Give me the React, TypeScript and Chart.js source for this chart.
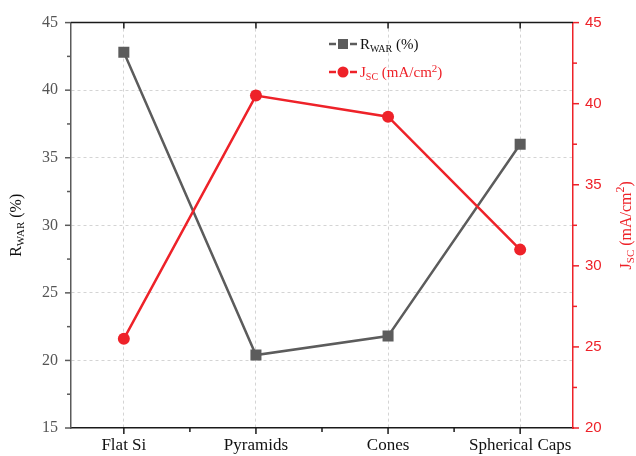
import React, { useEffect, useRef } from 'react';
import { Chart, registerables } from 'chart.js';

Chart.register(...registerables);

const categories = ['Flat Si', 'Pyramids', 'Cones', 'Spherical Caps'];
const rwarValues = [42.8, 20.4, 21.8, 36.0];
const jscValues = [25.5, 40.5, 39.2, 31.0];
const leftTicks = [15, 20, 25, 30, 35, 40, 45];
const rightTicks = [20, 25, 30, 35, 40, 45];

const GRAY = '#5c5c5c';
const RED = '#ee2229';
const SERIF = '"Liberation Serif", "Times New Roman", serif';
const SANS = '"Liberation Sans", Arial, sans-serif';

type Part = { t: string; size: number; dy: number };

function richWidth(ctx: CanvasRenderingContext2D, parts: Part[]) {
  let total = 0;
  parts.forEach((p) => {
    ctx.font = `${p.size}px ${SERIF}`;
    total += ctx.measureText(p.t).width;
  });
  return total;
}

function drawRich(ctx: CanvasRenderingContext2D, parts: Part[], x: number, y: number, color: string) {
  ctx.fillStyle = color;
  ctx.textAlign = 'left';
  ctx.textBaseline = 'alphabetic';
  let cx = x;
  parts.forEach((p) => {
    ctx.font = `${p.size}px ${SERIF}`;
    ctx.fillText(p.t, cx, y + p.dy);
    cx += ctx.measureText(p.t).width;
  });
}

const rwarLabel = (s: number): Part[] => [
  { t: 'R', size: s, dy: 0 },
  { t: 'WAR', size: Math.round(s * 0.67), dy: 3 },
  { t: ' (%)', size: s, dy: 0 },
];
const jscLabel = (s: number, sup: number): Part[] => [
  { t: 'J', size: s, dy: 0 },
  { t: 'SC', size: Math.round(s * 0.67), dy: 3 },
  { t: ' (mA/cm', size: s, dy: 0 },
  { t: '2', size: Math.round(s * 0.72), dy: sup },
  { t: ')', size: s, dy: 0 },
];

const framePlugin = {
  id: 'frameDeco',
  afterDraw(chart: any) {
    const { ctx, chartArea } = chart;
    const { left, right, top, bottom } = chartArea;
    const x = chart.scales.x;
    const y = chart.scales.y;
    const y1 = chart.scales.y1;
    const seg = (x1: number, y1_: number, x2: number, y2: number) => {
      ctx.beginPath();
      ctx.moveTo(x1, y1_);
      ctx.lineTo(x2, y2);
      ctx.stroke();
    };
    ctx.save();
    // top frame
    ctx.strokeStyle = '#1a1a1a';
    ctx.lineWidth = 1.5;
    seg(left, top, right, top);
    // x ticks
    x.ticks.forEach((t: any) => {
      const px = x.getPixelForValue(t.value);
      if (Number.isInteger(t.value)) {
        seg(px, bottom, px, bottom + 6);
        seg(px, top, px, top + 6);
      } else {
        seg(px, bottom, px, bottom + 4);
      }
    });
    // left ticks
    ctx.strokeStyle = '#5a5a5a';
    leftTicks.forEach((v, i) => {
      const py = y.getPixelForValue(v);
      seg(left, py, left - 6, py);
      if (i < leftTicks.length - 1) {
        const pm = y.getPixelForValue(v + 2.5);
        seg(left, pm, left - 4, pm);
      }
    });
    // right ticks
    ctx.strokeStyle = RED;
    rightTicks.forEach((v, i) => {
      const py = y1.getPixelForValue(v);
      seg(right, py, right + 6, py);
      if (i < rightTicks.length - 1) {
        const pm = y1.getPixelForValue(v + 2.5);
        seg(right, pm, right + 4, pm);
      }
    });

    // axis titles
    const cy = (top + bottom) / 2;
    const lp = rwarLabel(16);
    ctx.save();
    ctx.translate(21, cy);
    ctx.rotate(-Math.PI / 2);
    drawRich(ctx, lp, -richWidth(ctx, lp) / 2, 0, '#111');
    ctx.restore();

    const rp = jscLabel(16, -7);
    ctx.save();
    ctx.translate(631, cy);
    ctx.rotate(-Math.PI / 2);
    drawRich(ctx, rp, -richWidth(ctx, rp) / 2, 0, RED);
    ctx.restore();

    // legend
    const lx = 329;
    const rows = [
      { yc: 44, color: GRAY, shape: 'rect', parts: rwarLabel(15) },
      { yc: 72, color: RED, shape: 'circle', parts: jscLabel(15, -5) },
    ];
    rows.forEach((r) => {
      ctx.strokeStyle = r.color;
      ctx.fillStyle = r.color;
      ctx.lineWidth = 2.5;
      seg(lx, r.yc, lx + 7, r.yc);
      seg(lx + 21, r.yc, lx + 28, r.yc);
      if (r.shape === 'rect') {
        ctx.fillRect(lx + 9, r.yc - 5, 10, 10);
      } else {
        ctx.beginPath();
        ctx.arc(lx + 14, r.yc, 5.5, 0, Math.PI * 2);
        ctx.fill();
      }
      drawRich(ctx, r.parts, lx + 31, r.yc + 5, r.color === GRAY ? '#111' : RED);
    });
    ctx.restore();
  },
};

export default function App() {
  const ref = useRef<HTMLCanvasElement | null>(null);

  useEffect(() => {
    if (!ref.current) return;
    const chart = new Chart(ref.current, {
      type: 'line',
      data: {
        datasets: [
          {
            label: 'RWAR (%)',
            data: categories.map((_, i) => ({ x: i + 1, y: rwarValues[i] })),
            yAxisID: 'y',
            borderColor: GRAY,
            backgroundColor: GRAY,
            borderWidth: 2.5,
            pointStyle: 'rect',
            pointRadius: 7.8,
            pointBorderWidth: 0,
            order: 1,
          },
          {
            label: 'JSC (mA/cm2)',
            data: categories.map((_, i) => ({ x: i + 1, y: jscValues[i] })),
            yAxisID: 'y1',
            borderColor: RED,
            backgroundColor: RED,
            borderWidth: 2.5,
            pointStyle: 'circle',
            pointRadius: 6,
            pointBorderWidth: 0,
            order: 0,
          },
        ],
      },
      options: {
        responsive: false,
        animation: false,
        devicePixelRatio: 1,
        layout: { padding: { top: 16, left: 0, right: 0, bottom: 0 } },
        plugins: { legend: { display: false }, tooltip: { enabled: false } },
        scales: {
          x: {
            type: 'linear',
            position: 'bottom',
            min: 0.6,
            max: 4.4,
            afterBuildTicks: (s: any) => {
              s.ticks = [1, 1.5, 2, 2.5, 3, 3.5, 4].map((v) => ({ value: v }));
            },
            afterFit: (s: any) => {
              s.height = 28;
            },
            ticks: {
              autoSkip: false,
              maxRotation: 0,
              padding: 7,
              color: '#111',
              font: { family: SERIF, size: 17 },
              callback: (v: any) => (Number.isInteger(v) ? categories[v - 1] : ''),
            },
            grid: {
              drawTicks: false,
              color: (c: any) => (c.tick && Number.isInteger(c.tick.value) ? '#d4d4d4' : 'rgba(0,0,0,0)'),
              lineWidth: 1,
            },
            border: { color: '#1a1a1a', width: 1.5, dash: [3, 3] },
          },
          y: {
            type: 'linear',
            position: 'left',
            min: 15,
            max: 45,
            afterBuildTicks: (s: any) => {
              s.ticks = leftTicks.map((v) => ({ value: v }));
            },
            afterFit: (s: any) => {
              s.width = 71;
            },
            ticks: {
              padding: 13,
              color: '#555',
              font: { family: SERIF, size: 16 },
            },
            grid: {
              drawTicks: false,
              color: (c: any) =>
                c.tick && (c.tick.value === 15 || c.tick.value === 45) ? 'rgba(0,0,0,0)' : '#d4d4d4',
              lineWidth: 1,
            },
            border: { color: '#5a5a5a', width: 1.5, dash: [3, 3] },
          },
          y1: {
            type: 'linear',
            position: 'right',
            min: 20,
            max: 45,
            afterBuildTicks: (s: any) => {
              s.ticks = rightTicks.map((v) => ({ value: v }));
            },
            afterFit: (s: any) => {
              s.width = 63;
            },
            ticks: {
              padding: 12,
              color: RED,
              font: { family: SANS, size: 15 },
            },
            grid: { drawTicks: false, drawOnChartArea: false },
            border: { color: RED, width: 1.5 },
          },
        },
      },
      plugins: [framePlugin],
    } as any);
    return () => chart.destroy();
  }, []);

  return (
    <div style={{ position: 'fixed', left: 0, top: 0, width: 636, height: 456, background: '#fff' }}>
      <canvas ref={ref} width={636} height={456} />
    </div>
  );
}
